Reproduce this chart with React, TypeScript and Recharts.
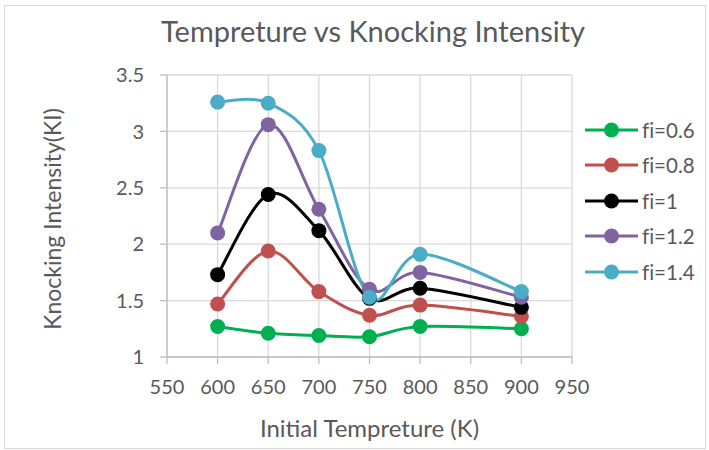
import { LineChart, Line, XAxis, YAxis, CartesianGrid, Legend } from 'recharts'

const temps = [600, 650, 700, 750, 800, 900]
const fi06 = [1.27, 1.21, 1.19, 1.18, 1.27, 1.25]
const fi08 = [1.47, 1.94, 1.58, 1.37, 1.46, 1.36]
const fi10 = [1.73, 2.44, 2.12, 1.52, 1.61, 1.44]
const fi12 = [2.1, 3.06, 2.31, 1.6, 1.75, 1.53]
const fi14 = [3.26, 3.25, 2.83, 1.53, 1.91, 1.58]

const xTicks = [550, 600, 650, 700, 750, 800, 850, 900, 950]
const yTicks = [1, 1.5, 2, 2.5, 3, 3.5]

const series = [
    { key: 'fi06', name: 'fi=0.6', color: '#00B050', values: fi06 },
    { key: 'fi08', name: 'fi=0.8', color: '#C0504D', values: fi08 },
    { key: 'fi10', name: 'fi=1', color: '#000000', values: fi10 },
    { key: 'fi12', name: 'fi=1.2', color: '#8064A2', values: fi12 },
    { key: 'fi14', name: 'fi=1.4', color: '#4BACC6', values: fi14 },
]

const data = temps.map((t, i) => {
    const row: Record<string, number> = { t }
    series.forEach((s) => (row[s.key] = s.values[i]))
    return row
})

const FONT = 'Lato, "Open Sans", sans-serif'
const TEXT = '#595959'
const GRID = '#D9D9D9'

// excel-like smoothed line (catmull-rom style bezier)
function excelSmooth(context: any) {
    let pts: number[][] = []
    return {
        areaStart() {},
        areaEnd() {},
        lineStart() {
            pts = []
        },
        point(x: number, y: number) {
            pts.push([+x, +y])
        },
        lineEnd() {
            const n = pts.length
            if (!n) return
            context.moveTo(pts[0][0], pts[0][1])
            for (let i = 0; i < n - 1; i++) {
                const p0 = pts[Math.max(i - 1, 0)]
                const p1 = pts[i]
                const p2 = pts[i + 1]
                const p3 = pts[Math.min(i + 2, n - 1)]
                context.bezierCurveTo(
                    p1[0] + (p2[0] - p0[0]) / 6,
                    p1[1] + (p2[1] - p0[1]) / 6,
                    p2[0] - (p3[0] - p1[0]) / 6,
                    p2[1] - (p3[1] - p1[1]) / 6,
                    p2[0],
                    p2[1]
                )
            }
        },
    }
}

function LegendBox(props: any) {
    const items = props.payload || []
    return (
        <div>
            {items.map((it: any) => (
                <div key={it.value} style={{ height: 35.5, display: 'flex', alignItems: 'center' }}>
                    <svg width={57} height={20}>
                        <line x1={0} y1={10} x2={53} y2={10} stroke={it.color} strokeWidth={3} />
                        <circle cx={26.5} cy={10} r={7.5} fill={it.color} />
                    </svg>
                    <span
                        style={{
                            fontFamily: FONT,
                            fontSize: 20.5,
                            color: TEXT,
                            fontVariantLigatures: 'none',
                        }}
                    >
                        {it.value}
                    </span>
                </div>
            ))}
        </div>
    )
}

export default function App() {
    return (
        <div style={{ position: 'absolute', left: 0, top: 0, width: 709, height: 450, background: '#fff' }}>
            <div
                style={{
                    position: 'absolute',
                    left: 4,
                    top: 5,
                    width: 700,
                    height: 442,
                    border: `1px solid ${GRID}`,
                }}
            />
            <div
                style={{
                    position: 'absolute',
                    left: 0,
                    top: 13,
                    width: 746,
                    textAlign: 'center',
                    fontFamily: FONT,
                    fontSize: 29,
                    color: TEXT,
                }}
            >
                Tempreture vs Knocking Intensity
            </div>
            <LineChart
                width={709}
                height={450}
                data={data}
                margin={{ top: 75, right: 137, bottom: 63, left: 107 }}
                style={{ position: 'absolute', left: 0, top: 0 }}
            >
                <CartesianGrid stroke={GRID} strokeWidth={1.3} />
                <XAxis
                    dataKey="t"
                    type="number"
                    domain={[550, 950]}
                    ticks={xTicks}
                    height={30}
                    stroke="#BFBFBF"
                    strokeWidth={1.3}
                    tickSize={7}
                    tickMargin={16}
                    tick={{ fill: TEXT, fontSize: 20, fontFamily: FONT }}
                    label={{
                        value: 'Initial Tempreture (K)',
                        position: 'bottom',
                        offset: 33,
                        style: { fill: TEXT, fontSize: 24, fontFamily: FONT },
                    }}
                />
                <YAxis
                    type="number"
                    domain={[1, 3.5]}
                    ticks={yTicks}
                    width={60}
                    stroke="#BFBFBF"
                    strokeWidth={1.3}
                    tickSize={7}
                    tickMargin={16}
                    tick={{ fill: TEXT, fontSize: 20, fontFamily: FONT }}
                    label={{
                        content: (p: any) => {
                            const vb = p.viewBox
                            const cx = vb.x - 55
                            const cy = vb.y + vb.height / 2 + 3
                            return (
                                <text
                                    x={cx}
                                    y={cy}
                                    transform={`rotate(-90 ${cx} ${cy})`}
                                    textAnchor="middle"
                                    dominantBaseline="central"
                                    fill={TEXT}
                                    fontSize={23}
                                    fontFamily={FONT}
                                >
                                    Knocking Intensity(KI)
                                </text>
                            )
                        },
                    }}
                />
                <Legend
                    layout="vertical"
                    align="center"
                    verticalAlign="middle"
                    content={<LegendBox />}
                    wrapperStyle={{ left: 585, top: 112, width: 124 }}
                />
                {series.map((s) => (
                    <Line
                        key={s.key}
                        dataKey={s.key}
                        name={s.name}
                        type={excelSmooth as any}
                        stroke={s.color}
                        strokeWidth={3}
                        dot={{ r: 7.5, fill: s.color, stroke: s.color, strokeWidth: 0 }}
                        activeDot={false}
                        isAnimationActive={false}
                    />
                ))}
            </LineChart>
        </div>
    )
}
